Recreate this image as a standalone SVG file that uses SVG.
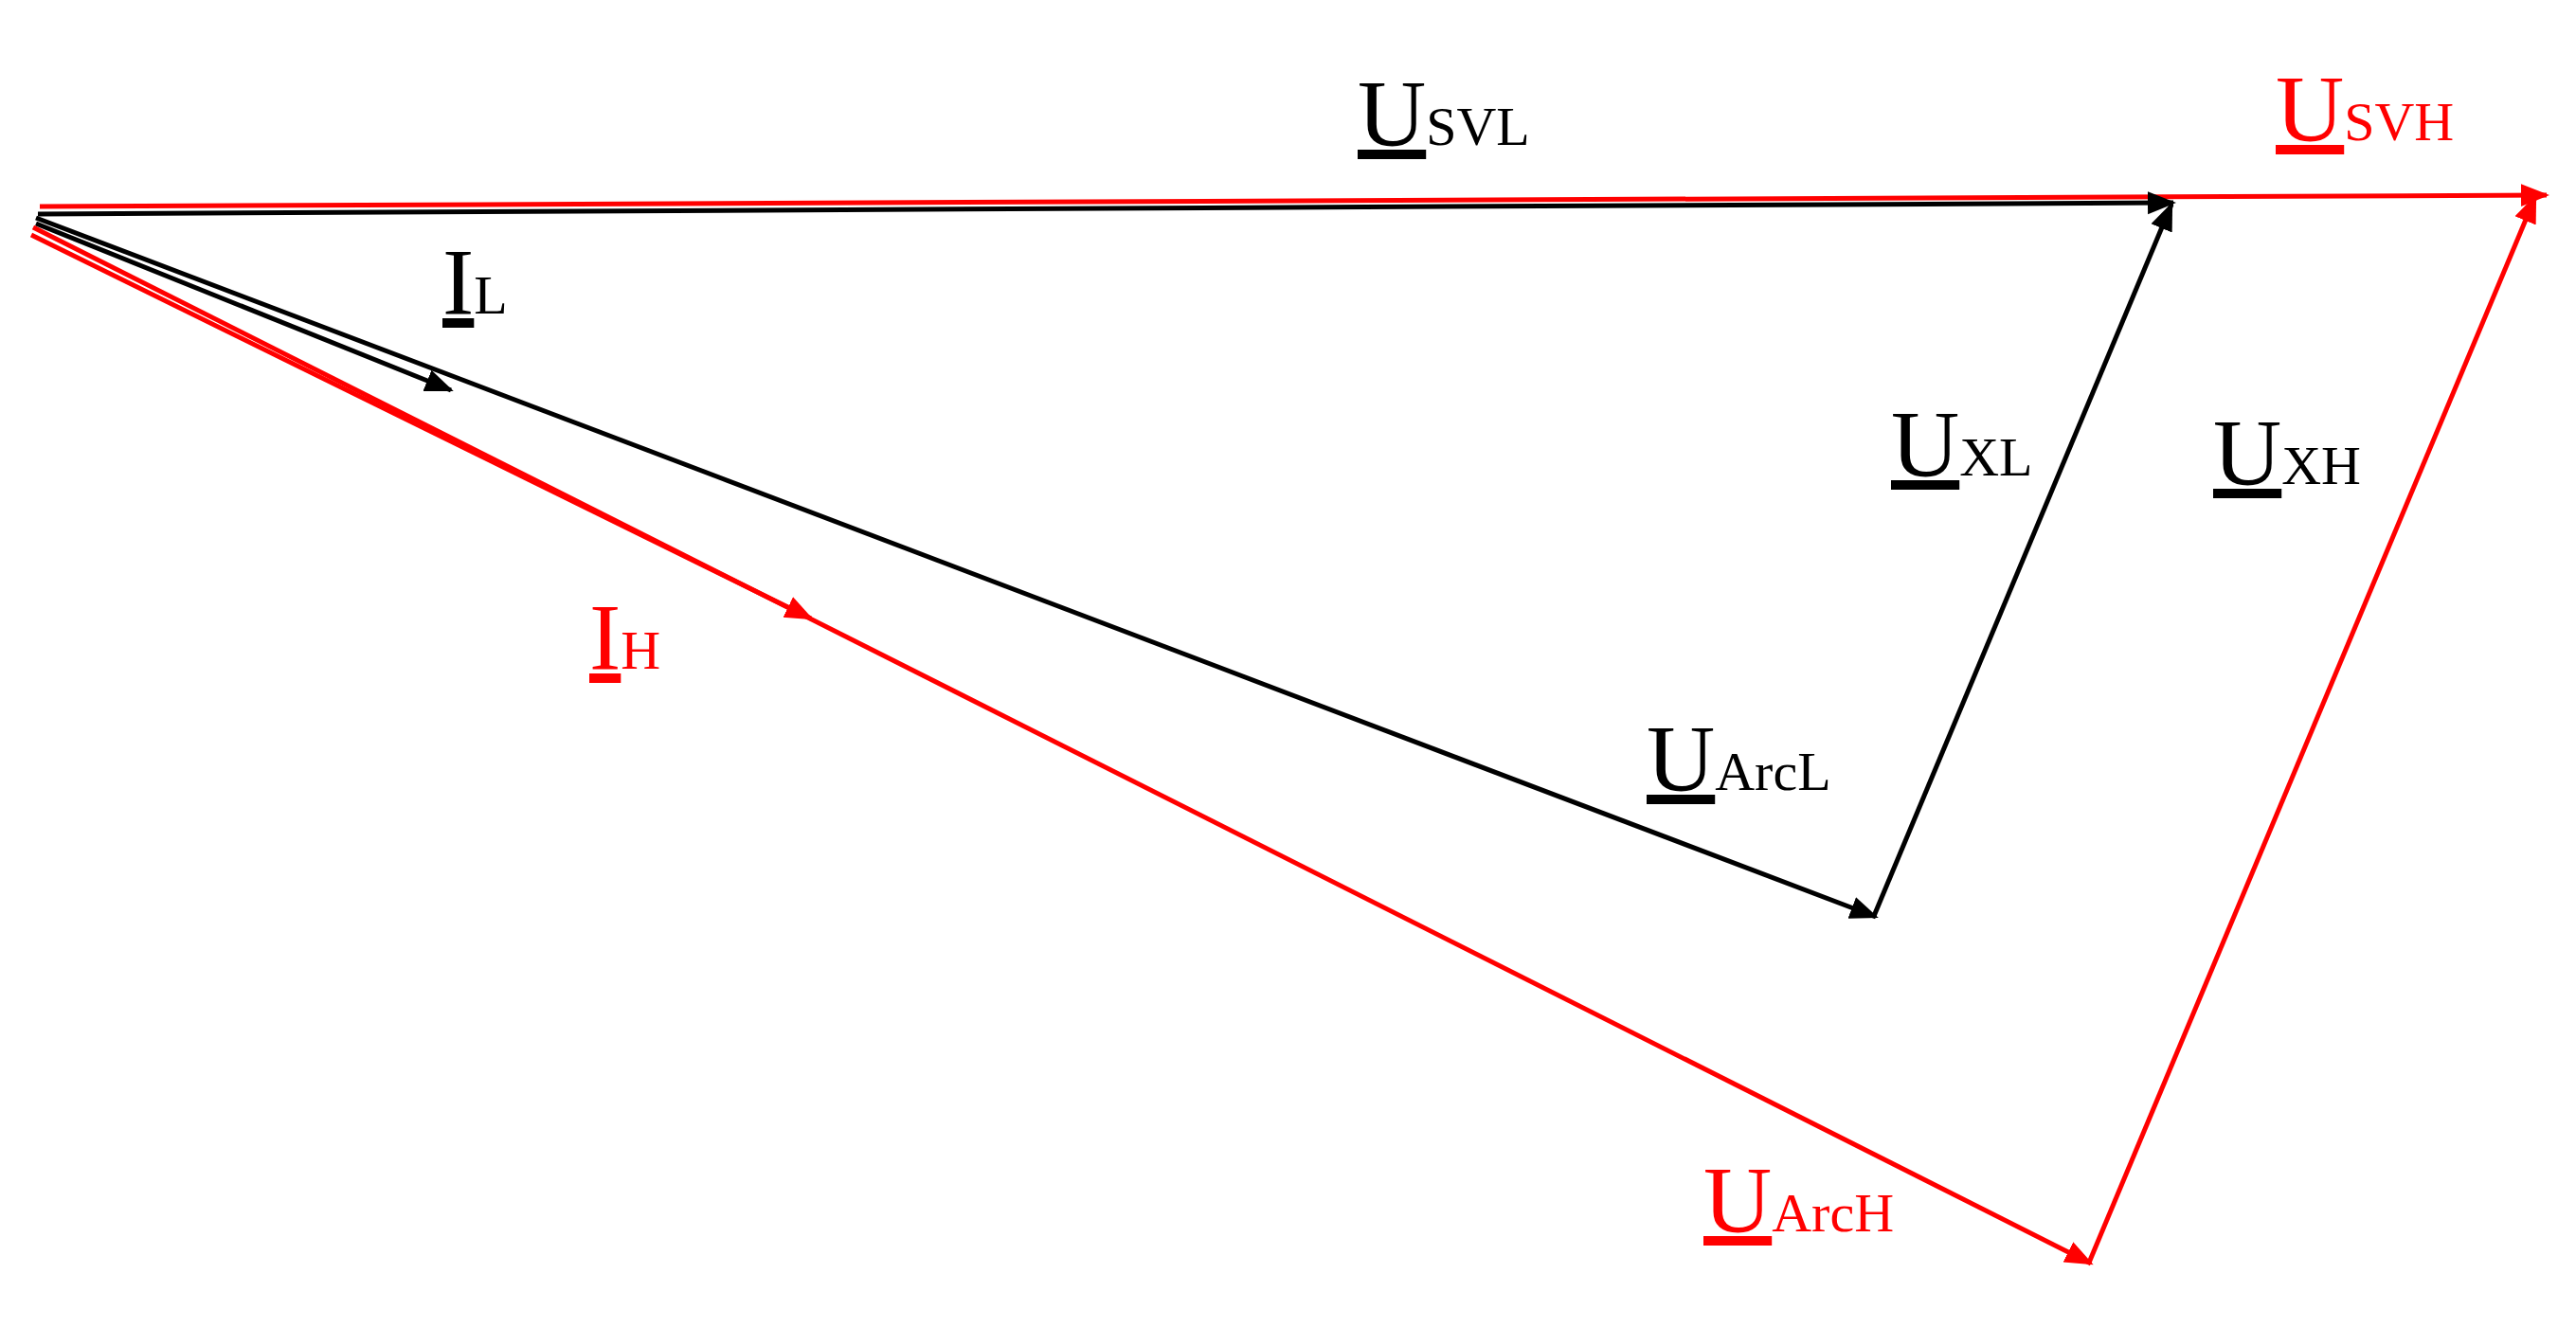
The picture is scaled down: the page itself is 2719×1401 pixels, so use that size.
<svg xmlns="http://www.w3.org/2000/svg" width="2719" height="1401" viewBox="0 0 2719 1401">
<style>
text{font-family:"Liberation Serif","Times New Roman",serif;font-size:100px}
.s{font-size:58px}
.u{text-decoration:underline}
.k{fill:#000}.r{fill:#ff0000}
.lk{stroke:#000;stroke-width:5;fill:none}
.lr{stroke:#ff0000;stroke-width:5;fill:none}
</style>
<defs>
<marker id="ak" viewBox="0 0 10 10" refX="9" refY="5" markerWidth="6" markerHeight="6" orient="auto" markerUnits="strokeWidth"><path d="M0,1 L10,5 L0,9 z" fill="#000"/></marker>
<marker id="ar" viewBox="0 0 10 10" refX="9" refY="5" markerWidth="6" markerHeight="6" orient="auto" markerUnits="strokeWidth"><path d="M0,1 L10,5 L0,9 z" fill="#ff0000"/></marker>
</defs>
<rect width="2719" height="1401" fill="#fff"/>
<g id="connectors">
<line class="lr" x1="42" y1="218" x2="2688" y2="206" marker-end="url(#ar)"/>
<line class="lk" x1="40" y1="226" x2="2294" y2="214" marker-end="url(#ak)"/>
<line class="lk" x1="1978" y1="967" x2="2292" y2="216" marker-end="url(#ak)"/>
<line class="lr" x1="2205" y1="1333" x2="2676" y2="208" marker-end="url(#ar)"/>
<line class="lk" x1="38" y1="230" x2="1980" y2="968" marker-end="url(#ak)"/>
<line class="lk" x1="38" y1="236" x2="476" y2="412" marker-end="url(#ak)"/>
<line class="lr" x1="35" y1="240" x2="2207" y2="1334" marker-end="url(#ar)"/>
<line class="lr" x1="33" y1="248" x2="856" y2="653" marker-end="url(#ar)"/>
</g>
<g id="USVL"><text x="1433" y="153" class="k"><tspan class="u">U</tspan><tspan class="s">SVL</tspan></text></g>
<g id="USVH"><text x="2402" y="148" class="r"><tspan class="u">U</tspan><tspan class="s">SVH</tspan></text></g>
<g id="IL"><text x="467" y="331" class="k"><tspan class="u">I</tspan><tspan class="s">L</tspan></text></g>
<g id="IH"><text x="622" y="706" class="r"><tspan class="u">I</tspan><tspan class="s">H</tspan></text></g>
<g id="UXL"><text x="1996" y="502" class="k"><tspan class="u">U</tspan><tspan class="s">XL</tspan></text></g>
<g id="UXH"><text x="2336" y="511" class="k"><tspan class="u">U</tspan><tspan class="s">XH</tspan></text></g>
<g id="UArcL"><text x="1738" y="834" class="k"><tspan class="u">U</tspan><tspan class="s">ArcL</tspan></text></g>
<g id="UArcH"><text x="1798" y="1300" class="r"><tspan class="u">U</tspan><tspan class="s">ArcH</tspan></text></g>
</svg>
